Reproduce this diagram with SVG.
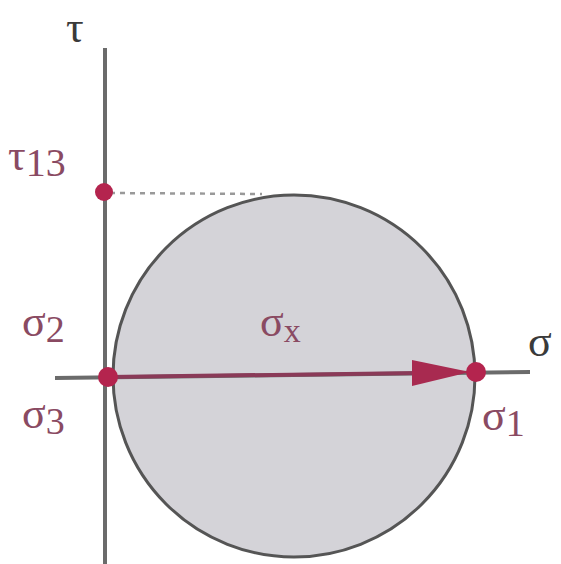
<svg xmlns="http://www.w3.org/2000/svg" width="561" height="564" viewBox="0 0 561 564">
<style>
.lbl{font-family:"Liberation Serif","DejaVu Serif",serif;fill:#8a4a62}
.ax{stroke:#6b6b6b;stroke-width:4;fill:none}
.pt{fill:#b4244e}
</style>
<defs>
<marker id="ah" markerWidth="10" markerHeight="6" refX="10" refY="3" orient="auto" markerUnits="userSpaceOnUse" viewBox="0 0 10 6">
<path d="M0,0 L10,3 L0,6 Z" fill="#a82a50"/>
</marker>
</defs>
<rect width="561" height="564" fill="#ffffff"/>
<g id="circle">
<circle cx="294" cy="376" r="181" fill="#d4d3d8" stroke="#555" stroke-width="3"/>
</g>
<g id="axes">
<line class="ax" x1="105" y1="48" x2="105" y2="564"/>
<line class="ax" x1="55" y1="378" x2="530" y2="372"/>
</g>
<g id="connectors">
<line x1="110" y1="193" x2="262" y2="194" stroke="#999" stroke-width="2.5" stroke-dasharray="5,5"/>
<line x1="108" y1="377" x2="420" y2="373" stroke="#8a3a58" stroke-width="4"/>
<path d="M412,360 L470,372 L412,386 Z" fill="#a82a50"/>
</g>
<g id="points">
<circle class="pt" cx="104" cy="192" r="9"/>
<circle class="pt" cx="108" cy="377" r="10"/>
<circle class="pt" cx="476" cy="372" r="10"/>
</g>
<g id="labels">
<text class="lbl" x="66" y="42" font-size="44" fill="#444" style="fill:#3a3a3a">τ</text>
<text class="lbl" x="8" y="170" font-size="44">τ<tspan font-size="40" dy="6">13</tspan></text>
<text class="lbl" x="22" y="336" font-size="44">σ<tspan font-size="38" dy="6">2</tspan></text>
<text class="lbl" x="22" y="428" font-size="44">σ<tspan font-size="38" dy="6">3</tspan></text>
<text class="lbl" x="260" y="336" font-size="44">σ<tspan font-size="34" dy="6">x</tspan></text>
<text class="lbl" x="528" y="356" font-size="44" style="fill:#3a3a3a">σ</text>
<text class="lbl" x="482" y="430" font-size="44">σ<tspan font-size="38" dy="6">1</tspan></text>
</g>
</svg>
